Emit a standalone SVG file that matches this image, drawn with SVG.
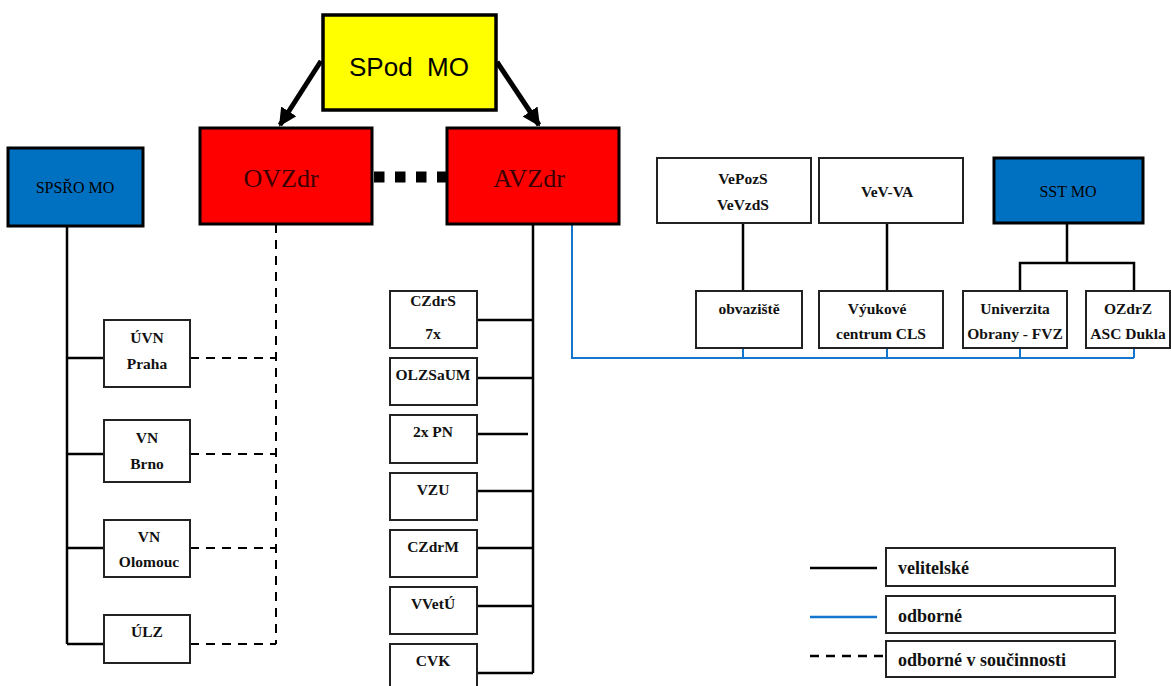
<svg xmlns="http://www.w3.org/2000/svg" width="1171" height="686" viewBox="0 0 1171 686">
  <style>
    .serif { font-family: "Liberation Serif", "DejaVu Serif", serif; }
    .box { fill: #ffffff; stroke: #222222; stroke-width: 2; }
    .big { stroke: #000000; stroke-width: 3; }
    .lbl { font-family: "Liberation Serif", "DejaVu Serif", serif; font-weight: bold; font-size: 15.5px; fill: #111111; text-anchor: middle; }
    .leg { font-family: "Liberation Serif", "DejaVu Serif", serif; font-weight: bold; font-size: 18px; fill: #111111; }
    .cmd { fill: none; stroke: #000000; stroke-width: 2.5; }
    .pro { fill: none; stroke: #1576d0; stroke-width: 2; }
    .coop { fill: none; stroke: #000000; stroke-width: 2; stroke-dasharray: 9 7; }
  </style>
  <defs>
    <marker id="head" viewBox="0 0 10 10" refX="9" refY="5" markerWidth="3.6" markerHeight="3.6" orient="auto" markerUnits="strokeWidth">
      <path d="M0,0 L10,5 L0,10 z" fill="#000000"/>
    </marker>
  </defs>
  <rect width="1171" height="686" fill="#ffffff"/>

  <!-- connectors -->
  <g id="connectors">
    <!-- top-level command arrows -->
    <line x1="321" y1="61" x2="280" y2="125" stroke="#000" stroke-width="5" marker-end="url(#head)"/>
    <line x1="497" y1="62" x2="539" y2="125" stroke="#000" stroke-width="5" marker-end="url(#head)"/>
    <!-- link between OVZdr and AVZdr -->
    <line x1="374" y1="177" x2="447" y2="177" stroke="#000" stroke-width="11" stroke-dasharray="10.5 10.5"/>

    <!-- SPSŘO MO hospitals -->
    <path class="cmd" d="M67,226 V644 M67,358 H104 M67,454 H104 M67,548 H104 M67,644 H104"/>
    <!-- OVZdr cooperation -->
    <path class="coop" d="M276,224 V644 M190,358 H276 M190,454 H276 M190,548 H276 M190,644 H276"/>

    <!-- AVZdr subordinate units -->
    <path class="cmd" d="M533,224 V673 M477,320 H533 M477,378 H533 M477,434 H528 M477,491 H533 M477,548 H533 M477,606 H533 M477,673 H533"/>
    <!-- AVZdr professional line -->
    <path class="pro" d="M572,224 V358 H1134 M743,348 V358 M887,348 V358 M1020,348 V358 M1134,348 V358"/>

    <!-- right-side command lines -->
    <path class="cmd" d="M743,223 V291 M887,223 V291 M1067,223 V263 M1020,291 V263 H1134 V291"/>

    <!-- legend samples -->
    <line x1="810" y1="568" x2="877" y2="568" stroke="#000" stroke-width="2.5"/>
    <line x1="810" y1="617" x2="877" y2="617" stroke="#1576d0" stroke-width="2.5"/>
    <line x1="810" y1="656" x2="886" y2="656" stroke="#000" stroke-width="2.5" stroke-dasharray="9 7"/>
  </g>

  <!-- top nodes -->
  <g id="spod-mo">
    <rect x="323" y="15" width="173" height="95" fill="#ffff00" stroke="#000" stroke-width="3.5"/>
    <text x="409" y="76" font-family="'Liberation Sans', Arial, sans-serif" font-size="26" text-anchor="middle" fill="#000" xml:space="preserve">SPod  MO</text>
  </g>
  <g id="ovzdr">
    <rect x="200" y="128" width="172" height="96" fill="#ff0000" class="big"/>
    <text class="serif" x="281" y="187" font-size="26" text-anchor="middle" fill="#3a0000">OVZdr</text>
  </g>
  <g id="avzdr">
    <rect x="447" y="128" width="172" height="96" fill="#ff0000" class="big"/>
    <text class="serif" x="529" y="187" font-size="26" text-anchor="middle" fill="#3a0000">AVZdr</text>
  </g>
  <g id="spsro-mo">
    <rect x="8" y="148" width="135" height="78" fill="#0070c0" class="big"/>
    <text class="serif" x="75" y="193" font-size="16" text-anchor="middle" fill="#000">SPSŘO MO</text>
  </g>

  <!-- hospitals -->
  <g id="uvn-praha">
    <rect class="box" x="104" y="320" width="86" height="67"/>
    <text class="lbl" x="147" y="343">ÚVN</text>
    <text class="lbl" x="147" y="369">Praha</text>
  </g>
  <g id="vn-brno">
    <rect class="box" x="104" y="420" width="86" height="62"/>
    <text class="lbl" x="147" y="443">VN</text>
    <text class="lbl" x="147" y="469">Brno</text>
  </g>
  <g id="vn-olomouc">
    <rect class="box" x="104" y="520" width="86" height="57"/>
    <text class="lbl" x="149" y="542">VN</text>
    <text class="lbl" x="149" y="567">Olomouc</text>
  </g>
  <g id="ulz">
    <rect class="box" x="104" y="615" width="86" height="48"/>
    <text class="lbl" x="147" y="637">ÚLZ</text>
  </g>

  <!-- AVZdr units -->
  <g id="czdrs">
    <rect class="box" x="390" y="291" width="87" height="57"/>
    <text class="lbl" x="433" y="306">CZdrS</text>
    <text class="lbl" x="433" y="339">7x</text>
  </g>
  <g id="olzsaum">
    <rect class="box" x="390" y="358" width="87" height="47"/>
    <text class="lbl" x="433" y="380">OLZSaUM</text>
  </g>
  <g id="pn">
    <rect class="box" x="390" y="415" width="87" height="48"/>
    <text class="lbl" x="433" y="437">2x PN</text>
  </g>
  <g id="vzu">
    <rect class="box" x="390" y="473" width="87" height="47"/>
    <text class="lbl" x="433" y="495">VZU</text>
  </g>
  <g id="czdrm">
    <rect class="box" x="390" y="530" width="87" height="47"/>
    <text class="lbl" x="433" y="552">CZdrM</text>
  </g>
  <g id="vvetu">
    <rect class="box" x="390" y="587" width="87" height="47"/>
    <text class="lbl" x="433" y="609">VVetÚ</text>
  </g>
  <g id="cvk">
    <rect class="box" x="390" y="644" width="87" height="50"/>
    <text class="lbl" x="433" y="666">CVK</text>
  </g>

  <!-- right-side nodes -->
  <g id="vepozs">
    <rect class="box" x="657" y="158" width="154" height="65"/>
    <text class="lbl" x="743" y="184">VePozS</text>
    <text class="lbl" x="743" y="210">VeVzdS</text>
  </g>
  <g id="vev-va">
    <rect class="box" x="819" y="158" width="144" height="65"/>
    <text class="lbl" x="887" y="197">VeV-VA</text>
  </g>
  <g id="sst-mo">
    <rect x="994" y="158" width="149" height="65" fill="#0070c0" class="big"/>
    <text class="serif" x="1068" y="197" font-size="16" text-anchor="middle" fill="#000">SST MO</text>
  </g>
  <g id="obvaziste">
    <rect class="box" x="696" y="291" width="106" height="57"/>
    <text class="lbl" x="749" y="314">obvaziště</text>
  </g>
  <g id="vyukove-centrum">
    <rect class="box" x="819" y="291" width="124" height="57"/>
    <text class="lbl" x="877" y="314">Výukové</text>
    <text class="lbl" x="881" y="339">centrum CLS</text>
  </g>
  <g id="univerzita">
    <rect class="box" x="963" y="291" width="104" height="57"/>
    <text class="lbl" x="1015" y="314">Univerzita</text>
    <text class="lbl" x="1015" y="339">Obrany - FVZ</text>
  </g>
  <g id="ozdrz">
    <rect class="box" x="1086" y="291" width="84" height="57"/>
    <text class="lbl" x="1128" y="314">OZdrZ</text>
    <text class="lbl" x="1128" y="339">ASC Dukla</text>
  </g>

  <!-- legend -->
  <g id="legend-command">
    <rect class="box" x="886" y="548" width="229" height="38"/>
    <text class="leg" x="898" y="574">velitelské</text>
  </g>
  <g id="legend-professional">
    <rect class="box" x="886" y="596" width="229" height="37"/>
    <text class="leg" x="898" y="622">odborné</text>
  </g>
  <g id="legend-cooperation">
    <rect class="box" x="886" y="641" width="229" height="36"/>
    <text class="leg" x="898" y="666">odborné v součinnosti</text>
  </g>
</svg>
